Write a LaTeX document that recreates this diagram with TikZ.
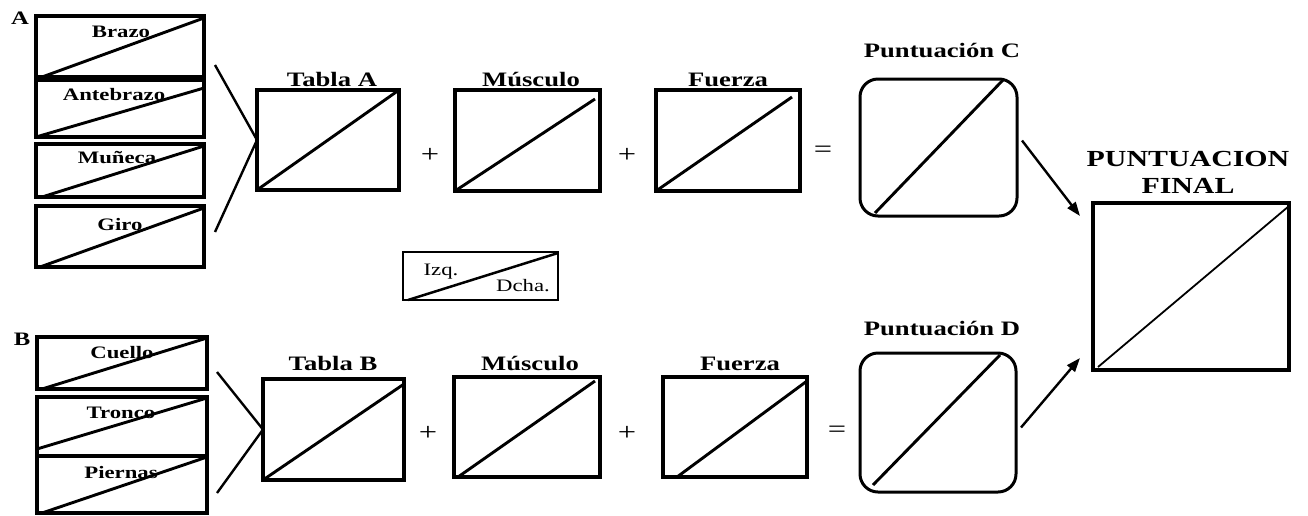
\documentclass[tikz,border=0pt]{standalone}
\usepackage{fontspec}
\setmainfont{Liberation Serif}[FakeStretch=1.3]
\usetikzlibrary{calc,arrows.meta}
\begin{document}
\begin{tikzpicture}[x=1pt,y=-1pt,
  box/.style={draw, line width=3.2pt, inner sep=0pt, outer sep=0pt},
  rbox/.style={draw, line width=3pt, rounded corners=18pt, inner sep=0pt, outer sep=0pt},
  fbox/.style={draw, line width=4.5pt, inner sep=0pt, outer sep=0pt},
  diag/.style={line width=2.9pt},
  thindiag/.style={line width=1.8pt},
  brk/.style={line width=2.4pt},
  arr/.style={line width=2.4pt, -{Triangle[length=14pt,width=10pt]}},
  lbl/.style={font=\bfseries\fontsize{20.5}{22}\selectfont, inner sep=0pt, anchor=base},
  sml/.style={font=\bfseries\fontsize{17.5}{19}\selectfont, inner sep=0pt, anchor=base},
  big/.style={font=\bfseries\fontsize{23}{27}\selectfont, inner sep=0pt, align=center},
  reg/.style={font=\fontsize{17.5}{19}\selectfont, inner sep=0pt, anchor=base},
  op/.style={font=\fontsize{25}{27}\selectfont, inner sep=0pt}
]
\useasboundingbox (0,0) rectangle (1308,515);

% ---- Group A ----
\node[sml, font=\bfseries\fontsize{19}{20}\selectfont] (labA) at (20,24) {A};
\node[box, minimum width=168pt, minimum height=61pt] (brazo) at (120,46.5) {};
\node[box, minimum width=168pt, minimum height=57pt] (ante) at (120,108.5) {};
\node[box, minimum width=168pt, minimum height=53pt] (mun) at (120,170.5) {};
\node[box, minimum width=168pt, minimum height=61pt] (giro) at (120,236.5) {};
\draw[diag] ($(brazo.south west)+(6,0)$) -- ($(brazo.north east)+(0,2)$);
\draw[diag] (ante.south west) -- ($(ante.north east)+(0,8)$);
\draw[diag] ($(mun.south west)+(6,0)$) -- ($(mun.north east)+(0,2)$);
\draw[diag] ($(giro.south west)+(4,0)$) -- ($(giro.north east)+(0,2)$);
\node[sml] (tbrazo) at (121,37) {Brazo};
\node[sml] (tante) at (114,100) {Antebrazo};
\node[sml] (tmun) at (117,163) {Muñeca};
\node[sml] (tgiro) at (120,230) {Giro};

\node[box, minimum width=142pt, minimum height=100pt] (tA) at (328,140) {};
\node[box, minimum width=145pt, minimum height=101pt] (mA) at (527.5,140.5) {};
\node[box, minimum width=144pt, minimum height=101pt] (fA) at (728,140.5) {};
\draw[diag] (tA.south west) -- (tA.north east);
\draw[diag] (mA.south west) -- ($(mA.north east)+(-5,9)$);
\draw[diag] (fA.south west) -- ($(fA.north east)+(-8,7)$);
\node[lbl] (ltA) at (332,86) {Tabla A};
\node[lbl] (lmA) at (531,86) {Músculo};
\node[lbl] (lfA) at (728,86) {Fuerza};

\coordinate (bA1) at (215,65);
\coordinate (bA2) at (215,232);
\draw[brk] (bA1) -- (tA.west) -- (bA2);

\node[op] (pA1) at (430,155) {+};
\node[op] (pA2) at (627,155) {+};
\node[op] (eA) at (823,152) {=};

\node[rbox, minimum width=157pt, minimum height=137pt] (pc) at (938.5,147.5) {};
\draw[diag] ($(pc.south west)+(15,-3)$) -- ($(pc.north east)+(-14,1)$);
\node[lbl] (lpc) at (942,57) {Puntuación C};

% ---- Izq / Dcha ----
\node[box, line width=2.8pt, minimum width=155pt, minimum height=48pt] (lr) at (480.5,276) {};
\draw[diag, line width=2.5pt] ($(lr.south west)+(5,0)$) -- ($(lr.north east)+(0,1)$);
\node[reg] (izq) at (441,275) {Izq.};
\node[reg] (dcha) at (523,291) {Dcha.};

% ---- Group B ----
\node[sml, font=\bfseries\fontsize{19}{20}\selectfont] (labB) at (22,345) {B};
\node[box, minimum width=170pt, minimum height=52pt] (cue) at (122,363) {};
\node[box, minimum width=170pt, minimum height=59pt] (tro) at (122,426.5) {};
\node[box, minimum width=170pt, minimum height=57pt] (pie) at (122,484.5) {};
\draw[diag] ($(cue.south west)+(5,0)$) -- ($(cue.north east)+(0,1)$);
\draw[diag] ($(tro.south west)+(0,-7)$) -- ($(tro.north east)+(0,1)$);
\draw[diag] ($(pie.south west)+(5,0)$) -- ($(pie.north east)+(0,1)$);
\node[sml] (tcue) at (122,358) {Cuello};
\node[sml] (ttro) at (121,418) {Tronco};
\node[sml] (tpie) at (121,478) {Piernas};

\node[box, minimum width=141pt, minimum height=101pt] (tB) at (333.5,429.5) {};
\node[box, minimum width=146pt, minimum height=100pt] (mB) at (527,427) {};
\node[box, minimum width=144pt, minimum height=100pt] (fB) at (735,427) {};
\draw[diag] (tB.south west) -- ($(tB.north east)+(0,5)$);
\draw[diag] ($(mB.south west)+(4,0)$) -- ($(mB.north east)+(-5,4)$);
\draw[diag] ($(fB.south west)+(14,0)$) -- ($(fB.north east)+(0,4)$);
\node[lbl] (ltB) at (333,370) {Tabla B};
\node[lbl] (lmB) at (530,370) {Músculo};
\node[lbl] (lfB) at (740,370) {Fuerza};

\coordinate (bB1) at (217,372);
\coordinate (bB2) at (217,493);
\draw[brk] (bB1) -- (tB.west) -- (bB2);

\node[op] (pB1) at (428,433) {+};
\node[op] (pB2) at (627,433) {+};
\node[op] (eB) at (837,432) {=};

\node[rbox, minimum width=156pt, minimum height=139pt] (pd) at (938,422.5) {};
\draw[diag] ($(pd.south west)+(13,-7)$) -- ($(pd.north east)+(-16,2)$);
\node[lbl] (lpd) at (942,335) {Puntuación D};

% ---- Final ----
\node[fbox, minimum width=196pt, minimum height=167pt] (fin) at (1191,286.5) {};
\draw[thindiag] ($(fin.south west)+(5,-3)$) -- ($(fin.north east)+(0,3)$);
\node[big] (lfin) at (1188,172) {PUNTUACION\\FINAL};

\draw[arr] ($(pc.east)+(5,-7)$) -- ($(fin.north west)+(-13,13)$);
\draw[arr] ($(pd.east)+(5,5)$) -- ($(fin.south west)+(-13,-12)$);
\end{tikzpicture}
\end{document}
